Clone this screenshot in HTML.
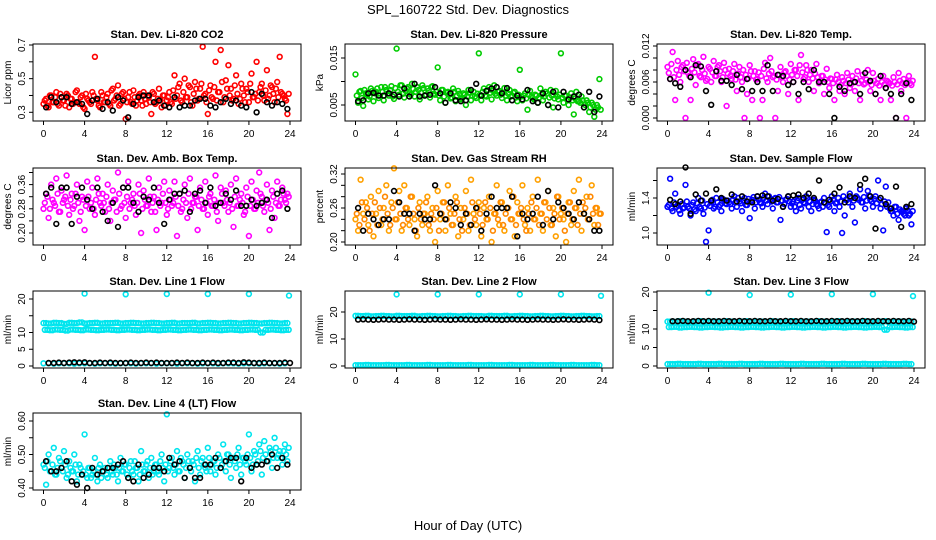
<!DOCTYPE html>
<html><head><meta charset="utf-8"><style>
body{margin:0;background:#fff;}
svg{display:block;font-family:"Liberation Sans",sans-serif;}
</style></head><body>
<svg id="chart" width="936" height="540" viewBox="0 0 936 540" xmlns="http://www.w3.org/2000/svg">
<text x="468" y="14" font-size="13" text-anchor="middle">SPL_160722  Std. Dev. Diagnostics</text>
<text x="468" y="530" font-size="13" text-anchor="middle">Hour of Day (UTC)</text>
</svg>
<script>
const xTicks=[0,4,8,12,16,20,24];
const co2Red=[0.35,0.38,0.33,0.40,0.36,0.42,0.34,0.39,0.37,0.41,0.33,0.38,0.36,0.43,0.35,0.40,0.32,0.38,0.36,0.42,0.63,0.37,0.33,0.40,
0.36,0.41,0.34,0.44,0.38,0.46,0.35,0.42,0.26,0.39,0.36,0.43,0.34,0.40,0.37,0.42,0.35,0.39,0.29,0.41,0.36,0.44,0.33,0.40,
0.37,0.42,0.35,0.52,0.40,0.47,0.36,0.50,0.39,0.45,0.34,0.48,0.37,0.44,0.69,0.41,0.29,0.46,0.38,0.60,0.42,0.67,0.36,0.49,
0.58,0.44,0.38,0.52,0.35,0.47,0.40,0.44,0.36,0.53,0.39,0.60,0.42,0.47,0.37,0.55,0.40,0.45,0.36,0.48,0.63,0.41,0.38,0.29];
const co2Core=[0.37,0.34,0.40,0.36,0.39,0.35,0.41,0.37,0.34,0.40,0.38,0.35,0.42,0.36,0.39,0.33,0.41,0.37,0.35,0.40,0.38,0.34,0.42,0.36,
0.39,0.35,0.43,0.37,0.40,0.34,0.41,0.38,0.36,0.42,0.35,0.39,0.37,0.41,0.34,0.38,0.40,0.36,0.42,0.35,0.38,0.37,0.40,0.34,
0.39,0.36,0.43,0.38,0.45,0.37,0.42,0.39,0.46,0.36,0.41,0.44,0.38,0.47,0.40,0.36,0.43,0.39,0.45,0.37,0.42,0.48,0.39,0.44,
0.40,0.37,0.46,0.41,0.38,0.44,0.36,0.42,0.47,0.39,0.41,0.37,0.45,0.40,0.43,0.38,0.46,0.41,0.44,0.39,0.42,0.40,0.37,0.41];
const co2Black=[0.33,0.39,0.36,0.39,0.39,0.35,0.36,0.35,0.29,0.37,0.38,0.32,0.36,0.31,0.39,0.37,0.27,0.35,0.39,0.40,0.40,0.36,0.37,0.34,0.33,0.39,0.33,0.34,0.34,0.37,0.38,0.38,0.34,0.33,0.36,0.38,0.35,0.37,0.34,0.33,0.42,0.30,0.41,0.36,0.34,0.36,0.35,0.32];
const presGreen=[0.0115,0.0055,0.0080,0.0048,0.0075,0.0062,0.0085,0.0058,0.0078,0.0065,0.0088,0.0060,0.0082,0.0070,0.0090,0.0063,0.0170,0.0072,0.0092,0.0066,0.0085,0.0075,0.0095,0.0068,
0.0088,0.0062,0.0092,0.0070,0.0085,0.0066,0.0090,0.0072,0.0130,0.0060,0.0082,0.0055,0.0078,0.0064,0.0085,0.0058,0.0080,0.0062,0.0075,0.0050,0.0082,0.0060,0.0078,0.0065,
0.0160,0.0060,0.0085,0.0068,0.0088,0.0062,0.0092,0.0070,0.0080,0.0065,0.0086,0.0060,0.0082,0.0070,0.0078,0.0058,0.0125,0.0060,0.0075,0.0040,0.0080,0.0065,0.0072,0.0055,
0.0085,0.0060,0.0078,0.0050,0.0082,0.0045,0.0080,0.0062,0.0160,0.0055,0.0070,0.0050,0.0075,0.0030,0.0078,0.0058,0.0068,0.0045,0.0060,0.0035,0.0055,0.0025,0.0050,0.0105];
const presCore=[0.0070,0.0078,0.0065,0.0082,0.0072,0.0068,0.0080,0.0075,0.0085,0.0070,0.0078,0.0088,0.0074,0.0082,0.0068,0.0086,0.0078,0.0092,0.0074,0.0080,0.0088,0.0072,0.0084,0.0078,
0.0082,0.0076,0.0086,0.0072,0.0080,0.0088,0.0074,0.0078,0.0070,0.0082,0.0068,0.0076,0.0072,0.0066,0.0078,0.0070,0.0074,0.0064,0.0072,0.0068,0.0076,0.0070,0.0068,0.0074,
0.0072,0.0078,0.0070,0.0082,0.0076,0.0080,0.0074,0.0078,0.0072,0.0076,0.0070,0.0074,0.0068,0.0076,0.0066,0.0072,0.0068,0.0070,0.0064,0.0072,0.0068,0.0062,0.0070,0.0066,
0.0072,0.0068,0.0074,0.0066,0.0070,0.0064,0.0068,0.0072,0.0066,0.0070,0.0062,0.0066,0.0060,0.0064,0.0058,0.0055,0.0060,0.0050,0.0055,0.0045,0.0050,0.0040,0.0045,0.0040];
const presBlack=[0.0058,0.0060,0.0075,0.0076,0.0070,0.0070,0.0075,0.0072,0.0068,0.0085,0.0068,0.0095,0.0068,0.0070,0.0072,0.0088,0.0075,0.0055,0.0075,0.0060,0.0058,0.0060,0.0082,0.0095,0.0070,0.0080,0.0085,0.0088,0.0075,0.0086,0.0060,0.0070,0.0062,0.0082,0.0058,0.0055,0.0075,0.0050,0.0078,0.0045,0.0078,0.0062,0.0068,0.0072,0.0045,0.0078,0.0035,0.0068];
const tempMag=[0.0085,0.0065,0.0110,0.0030,0.0095,0.0060,0.0088,0.0000,0.0075,0.0030,0.0098,0.0055,0.0090,0.0068,0.0102,0.0062,0.0085,0.0060,0.0095,0.0070,0.0088,0.0060,0.0092,0.0020,
0.0082,0.0065,0.0090,0.0045,0.0085,0.0060,0.0000,0.0040,0.0088,0.0030,0.0078,0.0065,0.0000,0.0030,0.0092,0.0060,0.0100,0.0068,0.0000,0.0045,0.0085,0.0060,0.0078,0.0040,
0.0090,0.0060,0.0080,0.0030,0.0105,0.0065,0.0088,0.0060,0.0080,0.0045,0.0090,0.0058,0.0070,0.0040,0.0082,0.0050,0.0065,0.0030,0.0072,0.0045,0.0068,0.0040,0.0075,0.0050,
0.0070,0.0045,0.0078,0.0030,0.0072,0.0058,0.0080,0.0045,0.0075,0.0040,0.0065,0.0030,0.0070,0.0050,0.0060,0.0030,0.0068,0.0000,0.0075,0.0045,0.0065,0.0000,0.0070,0.0055];
const tempCore=[0.0075,0.0090,0.0068,0.0080,0.0072,0.0085,0.0078,0.0092,0.0070,0.0082,0.0076,0.0088,0.0070,0.0080,0.0074,0.0065,0.0082,0.0076,0.0070,0.0085,0.0078,0.0068,0.0080,0.0074,
0.0070,0.0078,0.0064,0.0074,0.0068,0.0080,0.0072,0.0066,0.0078,0.0070,0.0064,0.0076,0.0070,0.0082,0.0066,0.0074,0.0078,0.0070,0.0064,0.0072,0.0068,0.0076,0.0070,0.0064,
0.0072,0.0080,0.0070,0.0088,0.0076,0.0068,0.0080,0.0072,0.0066,0.0074,0.0068,0.0062,0.0070,0.0064,0.0060,0.0066,0.0058,0.0064,0.0060,0.0055,0.0062,0.0058,0.0064,0.0056,
0.0060,0.0066,0.0058,0.0062,0.0056,0.0064,0.0060,0.0055,0.0062,0.0058,0.0054,0.0060,0.0056,0.0062,0.0058,0.0054,0.0060,0.0056,0.0062,0.0058,0.0055,0.0060,0.0058,0.0062];
const tempBlack=[0.0065,0.0058,0.0052,0.0080,0.0068,0.0088,0.0086,0.0045,0.0022,0.0078,0.0062,0.0062,0.0055,0.0072,0.0048,0.0065,0.0045,0.0060,0.0045,0.0088,0.0045,0.0072,0.0070,0.0055,0.0060,0.0040,0.0060,0.0048,0.0080,0.0060,0.0060,0.0040,0.0000,0.0052,0.0045,0.0058,0.0060,0.0040,0.0075,0.0062,0.0040,0.0070,0.0050,0.0040,0.0000,0.0040,0.0058,0.0030];
const boxMag=[0.28,0.33,0.25,0.36,0.30,0.38,0.27,0.34,0.31,0.39,0.26,0.33,0.29,0.36,0.24,0.32,0.21,0.37,0.28,0.35,0.26,0.38,0.30,0.33,
0.27,0.36,0.24,0.34,0.31,0.40,0.28,0.35,0.25,0.37,0.30,0.33,0.26,0.36,0.20,0.34,0.29,0.38,0.27,0.32,0.21,0.35,0.30,0.37,
0.26,0.34,0.29,0.37,0.19,0.33,0.28,0.36,0.25,0.38,0.30,0.32,0.21,0.35,0.28,0.37,0.26,0.33,0.29,0.39,0.24,0.35,0.30,0.34,
0.27,0.36,0.22,0.38,0.29,0.33,0.26,0.35,0.19,0.37,0.28,0.34,0.40,0.32,0.27,0.36,0.21,0.34,0.25,0.37,0.29,0.35,0.31,0.33];
const boxCore=[0.30,0.32,0.28,0.31,0.29,0.33,0.27,0.30,0.32,0.29,0.31,0.28,0.33,0.30,0.27,0.31,0.29,0.32,0.30,0.28,0.31,0.33,0.29,0.30,
0.32,0.28,0.30,0.31,0.27,0.33,0.29,0.30,0.32,0.28,0.31,0.29,0.30,0.33,0.28,0.31,0.29,0.32,0.30,0.27,0.31,0.29,0.33,0.30,
0.28,0.31,0.30,0.32,0.29,0.27,0.31,0.30,0.33,0.28,0.30,0.32,0.29,0.31,0.28,0.30,0.32,0.29,0.31,0.27,0.30,0.33,0.29,0.31,
0.30,0.28,0.32,0.29,0.31,0.30,0.27,0.32,0.29,0.31,0.28,0.30,0.33,0.29,0.31,0.30,0.28,0.32,0.30,0.29,0.31,0.33,0.30,0.32];
const boxBlack=[0.33,0.35,0.23,0.35,0.35,0.23,0.32,0.35,0.31,0.28,0.35,0.27,0.24,0.30,0.22,0.35,0.35,0.30,0.27,0.32,0.31,0.35,0.30,0.23,0.31,0.33,0.33,0.34,0.27,0.33,0.34,0.30,0.35,0.29,0.30,0.33,0.31,0.34,0.29,0.29,0.31,0.29,0.30,0.31,0.25,0.33,0.34,0.28];
const rhOrange=[0.24,0.22,0.31,0.25,0.27,0.23,0.28,0.21,0.25,0.29,0.23,0.26,0.30,0.22,0.27,0.33,0.24,0.29,0.22,0.30,0.26,0.23,0.28,0.24,
0.21,0.27,0.23,0.25,0.28,0.22,0.26,0.20,0.29,0.24,0.27,0.22,0.30,0.25,0.23,0.28,0.21,0.26,0.24,0.29,0.22,0.31,0.25,0.23,
0.27,0.21,0.26,0.24,0.28,0.20,0.25,0.30,0.23,0.27,0.22,0.26,0.29,0.24,0.21,0.27,0.25,0.30,0.23,0.26,0.22,0.28,0.24,0.31,
0.25,0.22,0.27,0.29,0.23,0.26,0.21,0.28,0.25,0.24,0.20,0.27,0.23,0.29,0.26,0.31,0.22,0.25,0.28,0.24,0.30,0.23,0.26,0.25];
const rhCore=[0.25,0.23,0.27,0.24,0.26,0.22,0.25,0.27,0.23,0.26,0.24,0.28,0.25,0.23,0.26,0.24,0.27,0.25,0.23,0.26,0.24,0.28,0.25,0.22,
0.26,0.24,0.25,0.27,0.23,0.25,0.24,0.26,0.22,0.25,0.27,0.24,0.26,0.23,0.25,0.27,0.24,0.22,0.26,0.25,0.23,0.27,0.24,0.26,
0.25,0.23,0.27,0.24,0.26,0.22,0.25,0.24,0.27,0.23,0.25,0.26,0.24,0.28,0.23,0.25,0.26,0.24,0.22,0.25,0.27,0.24,0.26,0.23,
0.25,0.27,0.24,0.26,0.23,0.25,0.28,0.24,0.26,0.22,0.25,0.27,0.24,0.26,0.23,0.25,0.27,0.26,0.24,0.28,0.25,0.26,0.23,0.25];
const rhBlack=[0.26,0.22,0.25,0.24,0.23,0.24,0.24,0.29,0.27,0.25,0.25,0.22,0.25,0.24,0.24,0.30,0.25,0.24,0.27,0.26,0.23,0.25,0.23,0.26,0.22,0.25,0.28,0.26,0.26,0.26,0.28,0.21,0.25,0.24,0.25,0.28,0.23,0.29,0.24,0.27,0.26,0.25,0.24,0.27,0.25,0.24,0.22,0.22];
const flowBlue=[1.30,1.62,1.25,1.45,1.32,1.22,1.28,1.55,1.30,1.20,1.35,1.25,1.40,1.28,1.22,0.90,1.03,1.35,1.28,1.40,1.30,1.25,1.38,1.33,
1.35,1.28,1.42,1.30,1.36,1.25,1.40,1.32,1.17,1.38,1.28,1.42,1.35,1.30,1.45,1.33,1.38,1.28,1.40,1.35,1.15,1.30,1.38,1.42,
1.30,1.36,1.25,1.40,1.28,1.35,1.42,1.30,1.25,1.38,1.33,1.28,1.36,1.40,1.01,1.30,1.42,1.25,1.35,1.30,1.00,1.20,1.38,1.45,
1.30,1.12,1.40,1.50,1.35,1.28,1.48,1.38,1.30,1.42,1.60,1.28,1.03,1.53,1.35,1.25,1.20,1.30,1.15,1.25,1.22,1.28,1.20,1.10];
const flowCore=[1.32,1.28,1.35,1.30,1.26,1.33,1.29,1.36,1.28,1.32,1.27,1.34,1.30,1.37,1.29,1.33,1.31,1.38,1.30,1.35,1.32,1.39,1.34,1.37,
1.33,1.38,1.35,1.40,1.34,1.37,1.32,1.39,1.36,1.41,1.35,1.38,1.34,1.40,1.37,1.42,1.36,1.39,1.35,1.41,1.37,1.33,1.39,1.36,
1.34,1.30,1.37,1.32,1.38,1.34,1.40,1.36,1.33,1.37,1.31,1.35,1.30,1.34,1.32,1.36,1.38,1.34,1.40,1.36,1.42,1.38,1.35,1.40,
1.37,1.42,1.38,1.35,1.41,1.37,1.43,1.36,1.39,1.34,1.38,1.33,1.36,1.30,1.28,1.25,1.30,1.22,1.27,1.24,1.20,1.26,1.22,1.25];
const flowBlack=[1.38,1.33,1.36,1.75,1.22,1.44,1.37,1.45,1.37,1.50,1.40,1.37,1.44,1.36,1.42,1.36,1.35,1.42,1.43,1.42,1.37,1.39,1.30,1.42,1.43,1.44,1.40,1.45,1.40,1.60,1.35,1.38,1.45,1.52,1.35,1.42,1.40,1.55,1.62,1.42,1.05,1.40,1.33,1.28,1.53,1.07,1.30,1.33];
const line1Hi=[12.8,12.7,12.9,12.8,12.6,12.9,12.8,13.0,12.7,12.8,12.9,12.7,12.8,12.8,12.9,12.7,12.8,12.9,12.8,12.7,12.8,12.9,12.8,12.7,12.8,12.9,12.7,12.8,12.8,12.9,12.7,12.8,12.9,12.8,12.7,12.8,12.9,12.8,12.7,12.8,12.9,12.8,12.7,12.8,12.9,12.8,12.7,12.8];
const line1Lo=[10.8,10.7,10.9,10.8,10.6,10.9,10.8,10.7,10.9,10.8,10.7,10.8,10.9,10.8,10.7,10.8,10.9,10.8,10.7,10.8,10.9,10.8,10.7,10.8,10.9,10.8,10.7,10.8,10.9,10.8,10.7,10.8,10.9,10.8,10.7,10.8,10.9,10.8,10.7,10.8,10.9,10.8,10.0,10.8,10.9,10.8,10.7,10.8];
const line1Zero=[0.8,0.8,0.7,0.8,0.8,0.8,0.7,0.8,0.8,0.8,0.7,0.8,0.8,0.8,0.7,0.8,0.8,0.8,0.7,0.8,0.8,0.8,0.7,0.8,0.8,0.8,0.7,0.8,0.8,0.8,0.7,0.8,0.8,0.8,0.7,0.8,0.8,0.8,0.7,0.8,0.8,0.8,0.7,0.8,0.8,0.8,0.7,0.8];
const line1Spike=[21.6,21.4,21.5,21.5,21.5,21.0];
const line1Black=[0.9,0.9,1.0,0.9,1.0,1.1,1.0,1.1,0.9,0.9,1.0,0.9,1.0,0.9,0.9,0.9,1.0,0.9,0.9,1.0,0.9,1.0,0.9,0.9,0.9,1.0,0.9,1.0,0.9,0.9,1.0,0.9,1.0,0.9,0.9,1.0,1.0,0.9,1.1,1.0,0.9,0.9,1.0,0.9,0.9,0.9,1.0,0.9];
const line2Hi=[18.6,18.5,18.6,18.4,18.5,18.6,18.5,18.4,18.6,18.5,18.5,18.6,18.4,18.5,18.6,18.5,18.4,18.5,18.6,18.5,18.4,18.5,18.6,18.5,18.5,18.4,18.6,18.5,18.5,18.6,18.4,18.5,18.6,18.5,18.4,18.5,18.6,18.5,18.4,18.5,18.6,18.5,18.4,18.5,18.6,18.5,18.4,18.5];
const line2Zero=[0.3,0.3,0.4,0.3,0.3,0.3,0.4,0.3,0.3,0.3,0.4,0.3,0.3,0.3,0.4,0.3,0.3,0.3,0.4,0.3,0.3,0.3,0.4,0.3,0.3,0.3,0.4,0.3,0.3,0.3,0.4,0.3,0.3,0.3,0.4,0.3,0.3,0.3,0.4,0.3,0.3,0.3,0.4,0.3,0.3,0.3,0.4,0.3];
const line2Spike=[26.5,26.5,26.5,26.5,26.5,26.0];
const line2Black=[17.2,17.3,17.2,17.1,17.2,17.3,17.2,17.2,17.1,17.2,17.3,17.2,17.2,17.1,17.2,17.3,17.2,17.2,17.1,17.2,17.3,17.2,17.2,17.1,17.2,17.3,17.2,17.2,17.1,17.2,17.3,17.2,17.2,17.1,17.2,17.3,17.2,17.2,17.1,17.2,17.3,17.2,17.2,17.1,17.2,17.3,17.2,17.0];
const line3Hi=[12.0,11.9,12.1,12.0,11.8,12.0,12.1,11.9,12.0,12.0,11.9,12.1,12.0,11.8,12.0,12.1,11.9,12.0,12.0,11.9,12.1,12.0,11.8,12.0,12.1,11.9,12.0,12.0,11.9,12.1,12.0,11.8,12.0,12.1,11.9,12.0,12.0,11.9,12.1,12.0,11.8,12.0,12.1,11.9,12.0,12.0,11.9,12.0];
const line3Lo=[10.5,10.6,10.4,10.5,10.6,10.5,10.4,10.5,10.6,10.5,10.4,10.5,10.6,10.5,10.4,10.5,10.6,10.5,10.4,10.5,10.6,10.5,10.4,10.5,10.6,10.5,10.4,10.5,10.6,10.5,10.4,10.5,10.6,10.5,10.4,10.5,10.6,10.5,10.4,10.5,10.6,10.5,9.8,10.5,10.6,10.5,10.4,10.5];
const line3Zero=[0.5,0.5,0.6,0.5,0.5,0.5,0.6,0.5,0.5,0.5,0.6,0.5,0.5,0.5,0.6,0.5,0.5,0.5,0.6,0.5,0.5,0.5,0.6,0.5,0.5,0.5,0.6,0.5,0.5,0.5,0.6,0.5,0.5,0.5,0.6,0.5,0.5,0.5,0.6,0.5,0.5,0.5,0.6,0.5,0.5,0.5,0.6,0.5];
const line3Spike=[19.8,19.2,19.3,19.4,19.4,18.9];
const line3Black=[12.1,12.1,12.2,12.1,12.1,12.2,12.1,12.2,12.1,12.1,12.2,12.1,12.1,12.2,12.1,12.1,12.2,12.1,12.1,12.2,12.1,12.1,12.2,12.1,12.1,12.2,12.1,12.1,12.2,12.1,12.1,12.2,12.1,12.1,12.2,12.1,12.1,12.2,12.1,12.1,12.2,12.1,12.1,12.2,12.1,12.1,12.2,12.0];
const lt4Cyan=[0.47,0.41,0.50,0.45,0.52,0.44,0.49,0.46,0.51,0.43,0.48,0.45,0.50,0.42,0.47,0.44,0.56,0.43,0.46,0.44,0.49,0.42,0.47,0.45,
0.46,0.43,0.48,0.44,0.46,0.42,0.49,0.45,0.47,0.43,0.48,0.44,0.46,0.42,0.51,0.45,0.47,0.43,0.49,0.45,0.47,0.44,0.50,0.42,
0.62,0.46,0.49,0.44,0.51,0.45,0.48,0.43,0.50,0.46,0.48,0.42,0.51,0.44,0.49,0.46,0.52,0.45,0.48,0.44,0.50,0.46,0.53,0.45,
0.50,0.43,0.49,0.46,0.52,0.44,0.49,0.47,0.56,0.45,0.51,0.47,0.53,0.44,0.54,0.48,0.52,0.46,0.55,0.49,0.51,0.47,0.53,0.48];
const lt4Core=[0.46,0.48,0.45,0.47,0.44,0.46,0.48,0.45,0.47,0.44,0.46,0.45,0.47,0.44,0.46,0.45,0.44,0.46,0.43,0.45,0.44,0.46,0.43,0.45,
0.44,0.46,0.45,0.47,0.44,0.46,0.45,0.47,0.44,0.46,0.45,0.48,0.46,0.44,0.47,0.45,0.48,0.46,0.44,0.47,0.45,0.48,0.46,0.47,
0.45,0.48,0.46,0.47,0.45,0.49,0.47,0.46,0.48,0.45,0.47,0.49,0.46,0.48,0.47,0.45,0.49,0.47,0.48,0.46,0.49,0.47,0.48,0.50,
0.47,0.49,0.48,0.50,0.47,0.49,0.48,0.50,0.49,0.47,0.50,0.48,0.51,0.49,0.50,0.48,0.51,0.49,0.52,0.50,0.49,0.51,0.50,0.52];
const lt4Black=[0.48,0.45,0.45,0.46,0.48,0.42,0.41,0.44,0.40,0.46,0.44,0.45,0.46,0.46,0.47,0.48,0.43,0.42,0.47,0.43,0.44,0.46,0.46,0.45,0.49,0.47,0.48,0.43,0.46,0.43,0.43,0.47,0.47,0.49,0.46,0.48,0.49,0.49,0.42,0.49,0.46,0.47,0.47,0.48,0.50,0.46,0.49,0.47];

const NS="http://www.w3.org/2000/svg";
const svg=document.getElementById('chart');
const colL=[33,345,657], rowT=[44,168,291,413], W=268, H=77;
function mk(tag,attrs,parent){const e=document.createElementNS(NS,tag);for(const k in attrs)e.setAttribute(k,attrs[k]);parent.appendChild(e);return e;}
function panel(o){
  const L=colL[o.c],T=rowT[o.r];
  const g=mk('g',{},svg);
  
  
  const xs=t=>L+10.5+t*(246.5/24);
  const ys=v=>o.y0px+(v-o.v0)*(o.y1px-o.y0px)/(o.v1-o.v0);
  const tt=mk('text',{x:L+W/2,y:T-6,'font-size':11,'font-weight':'bold','text-anchor':'middle'},g);
  tt.textContent=o.title;
  
  
  const pts=mk('g',{fill:'none','stroke-width':1.6},g);
  o.series.forEach(s=>{
    s.data.forEach((v,i)=>{
      const t=s.times?s.times[i]:(s.off||0)+i*(s.step);
      const c=mk('circle',{cx:xs(t).toFixed(1),cy:ys(v).toFixed(1),r:2.4,stroke:s.color},pts);
      
      
    });
  });
  const box=mk('rect',{x:L,y:T,width:W,height:H,fill:'none',stroke:'#000','stroke-width':1},g);
  
  
  const xa=mk('g',{},g);
  
  
  xTicks.forEach(t=>{
    mk('line',{x1:xs(t),x2:xs(t),y1:T+H,y2:T+H+4,stroke:'#000'},xa);
    const lb=mk('text',{x:xs(t),y:T+H+16,'font-size':10,'text-anchor':'middle'},xa);
    lb.textContent=t;
  });
  const ya=mk('g',{},g);
  
  
  o.ticks.forEach(v=>{
    mk('line',{x1:L,x2:L-4,y1:ys(v),y2:ys(v),stroke:'#000'},ya);
  });
  o.labels.forEach(v=>{
    const y=ys(v);
    const lb=mk('text',{x:L-8,y:y,'font-size':10,'text-anchor':'middle',transform:`rotate(-90 ${L-8} ${y})`},ya);
    lb.textContent=o.fmt(v);
  });
  const yt=mk('text',{x:L-22,y:T+H/2,'font-size':10,'text-anchor':'middle',transform:`rotate(-90 ${L-22} ${T+H/2})`},ya);
  yt.textContent=o.ylab;
  
  
}
const f1=v=>v.toFixed(1),f2=v=>v.toFixed(2),f3=v=>v.toFixed(3),f0=v=>String(v);
const sp=[4,8,12,16,20,23.9];
const CY='#00e5ee';
panel({name:'co2',c:0,r:0,title:'Stan. Dev. Li-820 CO2',ylab:'Licor ppm',v0:0.3,v1:0.7,y0px:112.3,y1px:45,ticks:[0.3,0.4,0.5,0.6,0.7],labels:[0.3,0.5,0.7],fmt:f1,
 series:[{data:co2Red,step:0.25,color:'#ff0000'},{data:co2Core,step:0.25,off:0.125,color:'#ff0000'},{data:co2Black,step:0.5,off:0.25,color:'#000'}]});
panel({name:'pressure',c:1,r:0,title:'Stan. Dev. Li-820 Pressure',ylab:'kPa',v0:0.005,v1:0.015,y0px:105,y1px:58,ticks:[0.005,0.010,0.015],labels:[0.005,0.015],fmt:f3,
 series:[{data:presGreen,step:0.25,color:'#00cc00'},{data:presCore,step:0.25,off:0.125,color:'#00cc00'},{data:presBlack,step:0.5,off:0.25,color:'#000'}]});
panel({name:'li820-temp',c:2,r:0,title:'Stan. Dev. Li-820 Temp.',ylab:'degrees C',v0:0,v1:0.012,y0px:118,y1px:46,ticks:[0,0.002,0.004,0.006,0.008,0.010,0.012],labels:[0,0.006,0.012],fmt:f3,
 series:[{data:tempMag,step:0.25,color:'#ff00ff'},{data:tempCore,step:0.25,off:0.125,color:'#ff00ff'},{data:tempBlack,step:0.5,off:0.25,color:'#000'}]});
panel({name:'box-temp',c:0,r:1,title:'Stan. Dev. Amb. Box Temp.',ylab:'degrees C',v0:0.20,v1:0.36,y0px:233,y1px:184.6,ticks:[0.20,0.24,0.28,0.32,0.36,0.40],labels:[0.20,0.28,0.36],fmt:f2,
 series:[{data:boxMag,step:0.25,color:'#ff00ff'},{data:boxCore,step:0.25,off:0.125,color:'#ff00ff'},{data:boxBlack,step:0.5,off:0.25,color:'#000'}]});
panel({name:'gas-rh',c:1,r:1,title:'Stan. Dev. Gas Stream RH',ylab:'percent',v0:0.20,v1:0.32,y0px:242,y1px:174,ticks:[0.20,0.22,0.24,0.26,0.28,0.30,0.32],labels:[0.20,0.26,0.32],fmt:f2,
 series:[{data:rhOrange,step:0.25,color:'#ffa000'},{data:rhCore,step:0.25,off:0.125,color:'#ff8800'},{data:rhBlack,step:0.5,off:0.25,color:'#000'}]});
panel({name:'sample-flow',c:2,r:1,title:'Stan. Dev. Sample Flow',ylab:'ml/min',v0:1.0,v1:1.4,y0px:233,y1px:198,ticks:[1.0,1.2,1.4,1.6],labels:[1.0,1.4],fmt:f1,
 series:[{data:flowBlue,step:0.25,color:'#0000ff'},{data:flowCore,step:0.25,off:0.125,color:'#0000ff'},{data:flowBlack,step:0.5,off:0.25,color:'#000'}]});
panel({name:'line1-flow',c:0,r:2,title:'Stan. Dev. Line 1 Flow',ylab:'ml/min',v0:0,v1:20,y0px:366,y1px:299,ticks:[0,5,10,15,20],labels:[0,5,10,20],fmt:f0,
 series:[{data:line1Hi,step:0.5,color:CY},{data:line1Hi,step:0.5,off:0.25,color:CY},{data:line1Lo,step:0.5,off:0.125,color:CY},{data:line1Lo,step:0.5,off:0.375,color:CY},{data:line1Zero,step:0.5,color:CY},{data:line1Spike,times:sp,color:CY},{data:line1Black,step:0.5,off:0.5,color:'#000'}]});
panel({name:'line2-flow',c:1,r:2,title:'Stan. Dev. Line 2 Flow',ylab:'ml/min',v0:0,v1:20,y0px:366,y1px:312,ticks:[0,10,20],labels:[0,10,20],fmt:f0,
 series:[{data:line2Hi,step:0.5,color:CY},{data:line2Hi,step:0.5,off:0.25,color:CY},{data:line2Zero,step:0.5,color:CY},{data:line2Zero,step:0.5,off:0.25,color:CY},{data:line2Spike,times:sp,color:CY},{data:line2Black,step:0.5,off:0.25,color:'#000'}]});
panel({name:'line3-flow',c:2,r:2,title:'Stan. Dev. Line 3 Flow',ylab:'ml/min',v0:0,v1:20,y0px:366,y1px:292,ticks:[0,5,10,15,20],labels:[0,5,10,20],fmt:f0,
 series:[{data:line3Hi,step:0.5,color:CY},{data:line3Hi,step:0.5,off:0.25,color:CY},{data:line3Lo,step:0.5,off:0.125,color:CY},{data:line3Lo,step:0.5,off:0.375,color:CY},{data:line3Zero,step:0.5,color:CY},{data:line3Zero,step:0.5,off:0.25,color:CY},{data:line3Spike,times:sp,color:CY},{data:line3Black,step:0.5,off:0.5,color:'#000'}]});
panel({name:'line4-flow',c:0,r:3,title:'Stan. Dev. Line 4 (LT) Flow',ylab:'ml/min',v0:0.40,v1:0.60,y0px:488,y1px:421,ticks:[0.40,0.45,0.50,0.55,0.60],labels:[0.40,0.50,0.60],fmt:f2,
 series:[{data:lt4Cyan,step:0.25,color:CY},{data:lt4Core,step:0.25,off:0.125,color:CY},{data:lt4Black,step:0.5,off:0.25,color:'#000'}]});
</script>
</body></html>
